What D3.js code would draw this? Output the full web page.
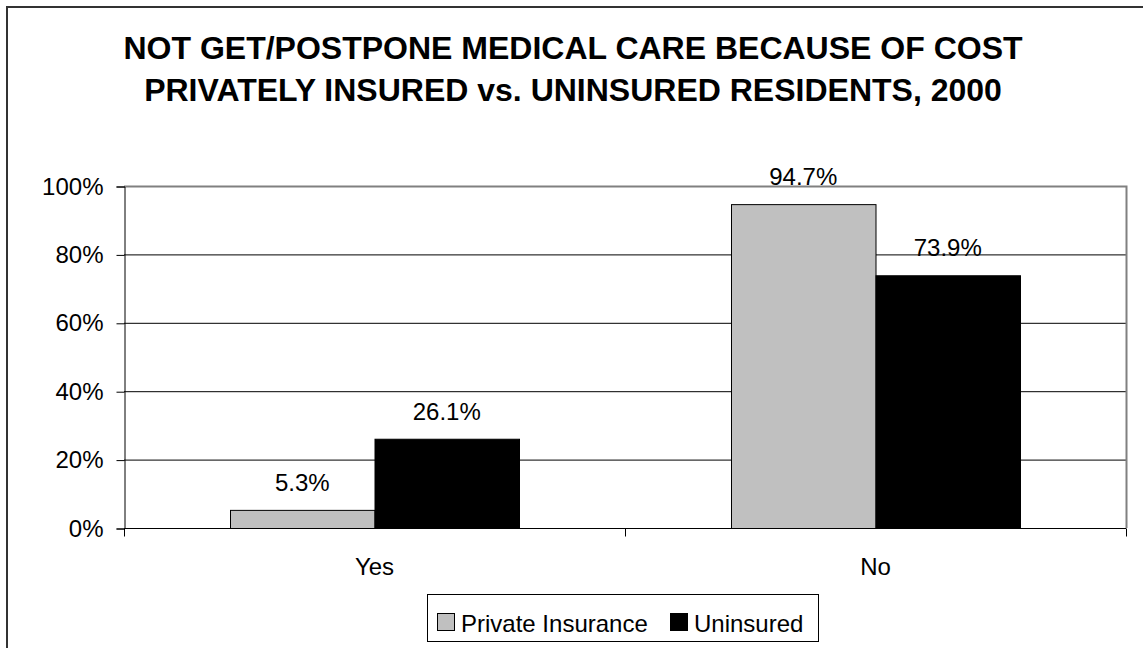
<!DOCTYPE html>
<html>
<head>
<meta charset="utf-8">
<script src="https://cdn.jsdelivr.net/npm/d3@7"></script>
<style>
  body { margin: 0; background: #fff; }
  text { font-family: "Liberation Sans", Arial, sans-serif; }
</style>
</head>
<body>
<div id="chart"></div>
<script>
var categories = ["Yes", "No"];
var seriesNames = ["Private Insurance", "Uninsured"];
var privateValues = [5.3, 94.7];
var uninsuredValues = [26.1, 73.9];
var yTicks = [0, 20, 40, 60, 80, 100];
var titleLines = ["NOT GET/POSTPONE MEDICAL CARE BECAUSE OF COST",
                  "PRIVATELY INSURED vs. UNINSURED RESIDENTS, 2000"];

var width = 1143,
  height = 648;

var colors = ["#c0c0c0", "#000000"];

var plot = { left: 124, right: 1126, top: 186, bottom: 528 };

var svg = d3.select("#chart").append("svg")
  .attr("width", width)
  .attr("height", height);

// outer frame (only top and left visible)
svg.append("path")
  .attr("d", "M7,648 L7,7 L1143,7")
  .attr("fill", "none")
  .attr("stroke", "#333")
  .attr("stroke-width", 2);

svg.selectAll("text.title")
  .data(titleLines)
  .enter().append("text")
  .attr("class", "title")
  .attr("x", 573)
  .attr("y", function(d, i) { return 59 + i * 42; })
  .attr("text-anchor", "middle")
  .style("font-weight", "bold")
  .style("font-size", "32px")
  .text(function(d) { return d; });

var x0 = d3.scaleBand()
  .domain(categories)
  .range([plot.left, plot.right])
  .paddingInner(0)
  .paddingOuter(0);

var groupWidth = 289;
var x1 = d3.scaleBand()
  .domain(seriesNames)
  .range([0, groupWidth]);

var y = d3.scaleLinear()
  .domain([0, 100])
  .range([plot.bottom, plot.top]);

// gridlines
svg.selectAll("line.grid")
  .data(yTicks.filter(function(t) { return t > 0 && t < 100; }))
  .enter().append("line")
  .attr("class", "grid")
  .attr("x1", plot.left).attr("x2", plot.right)
  .attr("y1", function(d) { return y(d) + 0.5; })
  .attr("y2", function(d) { return y(d) + 0.5; })
  .attr("stroke", "#000")
  .attr("stroke-width", 1);

// plot border top/right in gray
svg.append("path")
  .attr("d", "M" + plot.left + "," + (plot.top + 0.5) + " L" + (plot.right + 0.5) + "," + (plot.top + 0.5) +
             " L" + (plot.right + 0.5) + "," + plot.bottom)
  .attr("fill", "none")
  .attr("stroke", "#808080")
  .attr("stroke-width", 2);

var data = categories.map(function(c, i) {
  return { cat: c, values: [privateValues[i], uninsuredValues[i]] };
});

var groups = svg.selectAll("g.group")
  .data(data)
  .enter().append("g")
  .attr("class", "group")
  .attr("transform", function(d) {
    return "translate(" + (x0(d.cat) + (x0.bandwidth() - groupWidth) / 2) + ",0)";
  });

groups.selectAll("rect")
  .data(function(d) { return d.values.map(function(v, i) { return { name: seriesNames[i], v: v, i: i }; }); })
  .enter().append("rect")
  .attr("x", function(d) { return x1(d.name) + 0.5; })
  .attr("y", function(d) { return y(d.v) + 0.5; })
  .attr("width", x1.bandwidth())
  .attr("height", function(d) { return y(0) - y(d.v); })
  .attr("fill", function(d) { return colors[d.i]; })
  .attr("stroke", "#000")
  .attr("stroke-width", 1);

groups.selectAll("text.val")
  .data(function(d) { return d.values.map(function(v, i) { return { name: seriesNames[i], v: v, i: i }; }); })
  .enter().append("text")
  .attr("class", "val")
  .attr("x", function(d) { return x1(d.name) + x1.bandwidth() / 2; })
  .attr("y", function(d) { return y(d.v) - 19; })
  .attr("text-anchor", "middle")
  .style("font-size", "24px")
  .text(function(d) { return d.v.toFixed(1) + "%"; });

// y axis
var yAxis = d3.axisLeft(y)
  .tickValues(yTicks)
  .tickSize(8)
  .tickPadding(13)
  .tickFormat(function(d) { return d + "%"; });

var gy = svg.append("g")
  .attr("transform", "translate(" + (plot.left + 0.5) + ",0.5)")
  .call(yAxis);
gy.select(".domain").attr("stroke", "#000");
gy.selectAll(".tick line").attr("stroke", "#000");
gy.selectAll(".tick text")
  .attr("fill", "#000")
  .style("font-size", "24px")
  .style("font-family", "'Liberation Sans', Arial, sans-serif");

// x axis
var gx = svg.append("g")
  .attr("transform", "translate(0," + (plot.bottom + 0.5) + ")");
gx.append("line")
  .attr("x1", plot.left).attr("x2", plot.right)
  .attr("stroke", "#000");
gx.selectAll("line.xtick")
  .data(categories.map(function(c) { return x0(c); }).concat([plot.right]))
  .enter().append("line")
  .attr("class", "xtick")
  .attr("x1", function(d) { return d + 0.5; })
  .attr("x2", function(d) { return d + 0.5; })
  .attr("y1", 0).attr("y2", 8)
  .attr("stroke", "#000");
gx.selectAll("text")
  .data(categories)
  .enter().append("text")
  .attr("x", function(d) { return x0(d) + x0.bandwidth() / 2; })
  .attr("y", 46.5)
  .attr("text-anchor", "middle")
  .style("font-size", "24px")
  .text(function(d) { return d; });

// legend
var legend = svg.append("g");
legend.append("rect")
  .attr("x", 427.5).attr("y", 594.5)
  .attr("width", 391).attr("height", 47)
  .attr("fill", "#fff")
  .attr("stroke", "#000");

var legendX = [437, 670];
var items = legend.selectAll("g.item")
  .data(seriesNames)
  .enter().append("g")
  .attr("class", "item")
  .attr("transform", function(d, i) { return "translate(" + legendX[i] + ",0)"; });
items.append("rect")
  .attr("x", 0.5).attr("y", 613.5)
  .attr("width", 17).attr("height", 17)
  .attr("fill", function(d, i) { return colors[i]; })
  .attr("stroke", "#000");
items.append("text")
  .attr("x", 24)
  .attr("y", 632)
  .style("font-size", "24px")
  .text(function(d) { return d; });
</script>
</body>
</html>
